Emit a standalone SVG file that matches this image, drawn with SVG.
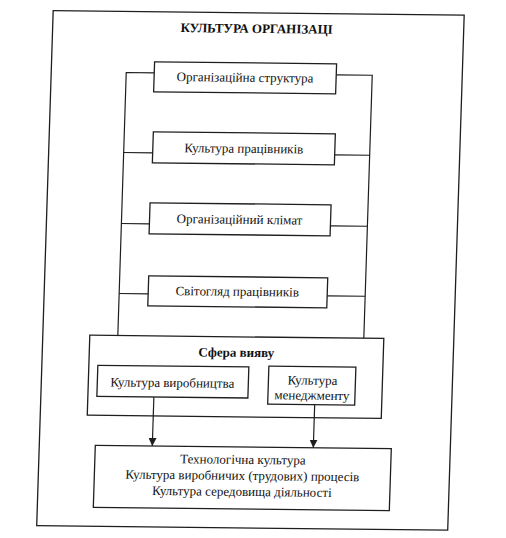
<svg xmlns="http://www.w3.org/2000/svg" width="506" height="538" viewBox="0 0 506 538">
  <defs>
    <style>
      .box { fill: none; stroke: #1e1e1e; stroke-width: 1.3; }
      .ln { fill: none; stroke: #1e1e1e; stroke-width: 1.2; }
      .t { font-family: "Liberation Serif", "Times New Roman", serif; font-size: 13px; fill: #111; text-anchor: middle; }
      .b { font-weight: bold; }
    </style>
    <marker id="arr" viewBox="0 0 8 8" refX="8" refY="4" markerWidth="8" markerHeight="8" markerUnits="userSpaceOnUse" orient="auto">
      <path d="M0,0 L8,4 L0,8 Z" fill="#1e1e1e"/>
    </marker>
  </defs>
  <rect x="0" y="0" width="506" height="538" fill="#ffffff"/>
  <g transform="matrix(1 0.011 -0.032 1 8.6 -2.8)">
    <g id="frame">
      <rect class="box" x="45" y="13" width="411" height="515"/>
      <text class="t b" x="249" y="33">КУЛЬТУРА ОРГАНІЗАЦІ</text>
    </g>
    <g id="connectors">
      <path class="ln" d="M148,74 H120 V337"/>
      <path class="ln" d="M330,74 H366 V337"/>
      <path class="ln" d="M149,154 H120"/>
      <path class="ln" d="M331,154 H366"/>
      <path class="ln" d="M148,225 H120"/>
      <path class="ln" d="M329,225 H366"/>
      <path class="ln" d="M149,295 H120"/>
      <path class="ln" d="M328,295 H366"/>
      <path class="ln" d="M158,398 V447" marker-end="url(#arr)"/>
      <path class="ln" d="M319,404 V447" marker-end="url(#arr)"/>
    </g>
    <g id="n1">
      <rect class="box" x="148" y="63" width="182" height="30"/>
      <text class="t" x="239" y="82">Організаційна структура</text>
    </g>
    <g id="n2">
      <rect class="box" x="149" y="133" width="182" height="31"/>
      <text class="t" x="240" y="153">Культура працівників</text>
    </g>
    <g id="n3">
      <rect class="box" x="148" y="204" width="181" height="31"/>
      <text class="t" x="238" y="224">Організаційний клімат</text>
    </g>
    <g id="n4">
      <rect class="box" x="149" y="277" width="179" height="30"/>
      <text class="t" x="238" y="296">Світогляд працівників</text>
    </g>
    <g id="sfera">
      <rect class="box" x="92" y="337" width="294" height="80"/>
      <text class="t b" x="239" y="357">Сфера вияву</text>
    </g>
    <g id="n5">
      <rect class="box" x="101" y="367" width="151" height="31"/>
      <text class="t" x="176" y="388">Культура виробництва</text>
    </g>
    <g id="n6">
      <rect class="box" x="272" y="366" width="87" height="38"/>
      <text class="t" x="316" y="384">Культура</text>
      <text class="t" x="316" y="399">менеджменту</text>
    </g>
    <g id="n7">
      <rect class="box" x="101" y="447" width="296" height="62"/>
      <text class="t" x="249" y="464">Технологічна культура</text>
      <text class="t" x="249" y="480">Культура виробничих (трудових) процесів</text>
      <text class="t" x="249" y="496">Культура середовища діяльності</text>
    </g>
  </g>
</svg>
